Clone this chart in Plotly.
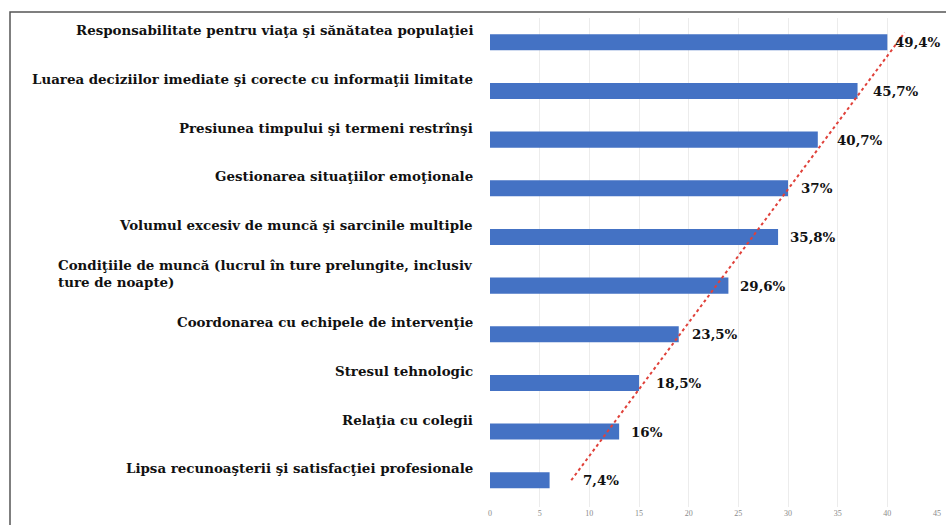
import numpy as np
import plotly.graph_objects as go

# Data (top to bottom as shown in the chart)
categories = [
    "Responsabilitate pentru viaţa şi sănătatea populaţiei",
    "Luarea deciziilor imediate şi corecte cu informaţii limitate",
    "Presiunea timpului şi termeni restrînşi",
    "Gestionarea situaţiilor emoţionale",
    "Volumul excesiv de muncă şi sarcinile multiple",
    "Condiţiile de muncă (lucrul în ture prelungite, inclusiv<br>ture de noapte)",
    "Coordonarea cu echipele de intervenţie",
    "Stresul tehnologic",
    "Relaţia cu colegii",
    "Lipsa recunoaşterii şi satisfacţiei profesionale",
]
counts = [40, 37, 33, 30, 29, 24, 19, 15, 13, 6]
percent_labels = ["49,4%", "45,7%", "40,7%", "37%", "35,8%", "29,6%",
                  "23,5%", "18,5%", "16%", "7,4%"]
x_ticks = [0, 5, 10, 15, 20, 25, 30, 35, 40, 45]

# bottom-to-top order for numeric y positions
cats_b = categories[::-1]
vals_b = counts[::-1]
labs_b = percent_labels[::-1]
idx = np.arange(len(vals_b))

# linear trendline (as in the original)
slope, intercept = np.polyfit(idx, vals_b, 1)
tx = np.array([0.0, len(vals_b) - 1 + 0.2])
ty = intercept + slope * tx
trend_at = intercept + slope * idx

W, H = 946, 525
ML, MT = 490, 18
MR = W - 938
MB = H - 507
PW, PH = W - ML - MR, H - MT - MB
X_MAX = 45.1
LABEL_CAP = 39.6   # keep the top value label inside the picture

fig = go.Figure()
fig.add_trace(go.Bar(
    x=vals_b, y=idx, orientation="h",
    marker=dict(color="#4472C4", line=dict(width=0)),
    width=0.33, hoverinfo="skip", showlegend=False,
))
fig.add_trace(go.Scatter(
    x=ty, y=tx, mode="lines",
    line=dict(color="#E0413A", width=2, dash="dot"),
    hoverinfo="skip", showlegend=False,
))

annotations = []
label_font = dict(family="DejaVu Serif, serif", size=13.4, color="#111111")
for i, c in enumerate(cats_b):
    annotations.append(dict(
        x=0, xref="paper", y=i, yref="y", text="<b>" + c + "</b>",
        showarrow=False, xanchor="right", yanchor="middle", align="left",
        xshift=-15, yshift=12, font=label_font,
    ))
for i, (v, lab) in enumerate(zip(vals_b, labs_b)):
    annotations.append(dict(
        x=min(max(v, trend_at[i]), LABEL_CAP), xref="x", y=i, yref="y",
        text="<b>" + lab + "</b>",
        showarrow=False, xanchor="left", yanchor="middle",
        xshift=10, yshift=0, font=label_font,
    ))

def px_x(p):
    return (p - ML) / PW
def px_y(p):
    return 1 - (p - MT) / PH

fig.update_layout(
    width=W, height=H,
    margin=dict(l=ML, r=MR, t=MT, b=MB, autoexpand=False),
    plot_bgcolor="white", paper_bgcolor="white",
    xaxis=dict(range=[0, X_MAX], tickvals=x_ticks, showgrid=True,
               gridcolor="#ececec", gridwidth=1, zeroline=False,
               showline=False, tickfont=dict(family="Liberation Serif", size=8, color="#8a8a8a"),
               ticks="", fixedrange=True, automargin=False),
    yaxis=dict(range=[-0.55, 9.5], showticklabels=False, showgrid=False,
               zeroline=False, showline=False, fixedrange=True, automargin=False),
    annotations=annotations,
    shapes=[dict(type="rect", xref="paper", yref="paper",
                 x0=px_x(10), x1=px_x(W + 20), y0=px_y(H + 20), y1=px_y(12),
                 line=dict(color="#555555", width=1.5), layer="below")],
)

fig.write_html(
    "out.html",
    config={"displayModeBar": False, "staticPlot": True},
    post_script="document.body.style.margin='0';document.body.style.overflow='hidden';",
)
